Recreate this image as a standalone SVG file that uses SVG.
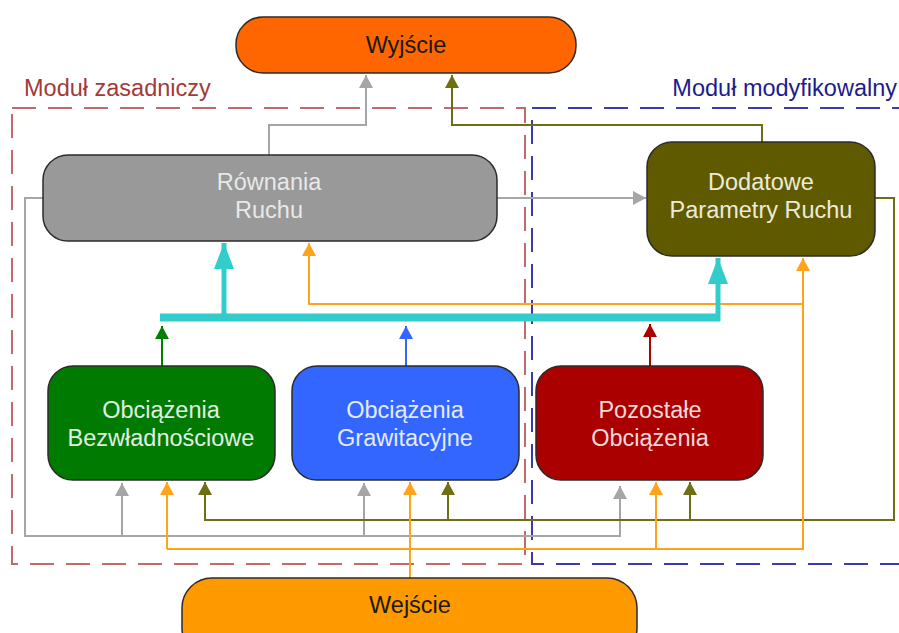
<svg xmlns="http://www.w3.org/2000/svg" width="899" height="633" viewBox="0 0 899 633">
<style>
  text { font-family: "Liberation Sans", Arial, sans-serif; font-size: 23.5px; text-anchor: middle; }
  .box { stroke: #2b2b2b; stroke-width: 1.5; }
  .c { fill: none; stroke-width: 2; }
  .gray { stroke: #a6a6a6; }
  .olive { stroke: #6e6e14; }
  .orange { stroke: #ffa31a; }
  .cyan { stroke: #33cccc; fill: none; }
  .green { stroke: #008000; }
  .blue { stroke: #3366ff; }
  .red { stroke: #aa0000; }
  .frame { fill: none; stroke-width: 2; stroke-dasharray: 24 12; }
</style>
<defs>
  <marker id="aGray" markerUnits="userSpaceOnUse" markerWidth="14" markerHeight="14" refX="13" refY="7" orient="auto"><path d="M0,0 L13,7 L0,14 z" fill="#a6a6a6"/></marker>
  <marker id="aOlive" markerUnits="userSpaceOnUse" markerWidth="14" markerHeight="14" refX="13" refY="7" orient="auto"><path d="M0,0 L13,7 L0,14 z" fill="#6e6e14"/></marker>
  <marker id="aOrange" markerUnits="userSpaceOnUse" markerWidth="14" markerHeight="14" refX="13" refY="7" orient="auto"><path d="M0,0 L13,7 L0,14 z" fill="#ffa31a"/></marker>
  <marker id="aGreen" markerUnits="userSpaceOnUse" markerWidth="14" markerHeight="14" refX="13" refY="7" orient="auto"><path d="M0,0 L13,7 L0,14 z" fill="#008000"/></marker>
  <marker id="aBlue" markerUnits="userSpaceOnUse" markerWidth="14" markerHeight="14" refX="13" refY="7" orient="auto"><path d="M0,0 L13,7 L0,14 z" fill="#3366ff"/></marker>
  <marker id="aRed" markerUnits="userSpaceOnUse" markerWidth="14" markerHeight="14" refX="13" refY="7" orient="auto"><path d="M0,0 L13,7 L0,14 z" fill="#aa0000"/></marker>
  <marker id="aCyan" markerUnits="userSpaceOnUse" markerWidth="26" markerHeight="20" refX="26" refY="10" orient="auto"><path d="M0,0 L26,10 L0,20 z" fill="#33cccc"/></marker>
</defs>

<g id="frames">
  <rect class="frame" x="12" y="108" width="513" height="456" stroke="#c06a6a"/>
  <rect class="frame" x="532" y="108" width="390" height="456" stroke="#3a3aaa"/>
  <text x="24" y="96" style="text-anchor:start" fill="#a23a3a">Moduł zasadniczy</text>
  <text x="897" y="96" style="text-anchor:end" fill="#1c1c8e">Moduł modyfikowalny</text>
</g>

<g id="connectors">
  <!-- gray -->
  <path class="c gray" d="M269,155 V125 H366 V75" marker-end="url(#aGray)"/>
  <path class="c gray" d="M497,198 H646" marker-end="url(#aGray)"/>
  <path class="c gray" d="M43,198 H25 V536 H620 V486" marker-end="url(#aGray)"/>
  <path class="c gray" d="M122,536 V483" marker-end="url(#aGray)"/>
  <path class="c gray" d="M364,536 V483" marker-end="url(#aGray)"/>
  <!-- olive -->
  <path class="c olive" d="M762,142 V125 H452 V75" marker-end="url(#aOlive)"/>
  <path class="c olive" d="M875,198 H894 V520 H205 V482" marker-end="url(#aOlive)"/>
  <path class="c olive" d="M448,520 V482" marker-end="url(#aOlive)"/>
  <path class="c olive" d="M690,520 V482" marker-end="url(#aOlive)"/>
  <!-- orange -->
  <path class="c orange" d="M410,578 V482" marker-end="url(#aOrange)"/>
  <path class="c orange" d="M167,549 H803 V258" marker-end="url(#aOrange)"/>
  <path class="c orange" d="M167,549 V482" marker-end="url(#aOrange)"/>
  <path class="c orange" d="M656,549 V482" marker-end="url(#aOrange)"/>
  <path class="c orange" d="M803,304 H309 V243" marker-end="url(#aOrange)"/>
  <!-- cyan bus -->
  <path class="cyan" stroke-width="8" d="M160,317.5 H720"/>
  <path class="cyan" stroke-width="5" d="M224,317 V243" marker-end="url(#aCyan)"/>
  <path class="cyan" stroke-width="5" d="M718,321 V258" marker-end="url(#aCyan)"/>
  <!-- loads to bus -->
  <path class="c green" d="M162,366 V326" marker-end="url(#aGreen)"/>
  <path class="c blue" d="M406,366 V326" marker-end="url(#aBlue)"/>
  <path class="c red" d="M650,366 V324" marker-end="url(#aRed)"/>
</g>

<g id="wyjscie">
  <rect class="box" x="236" y="17" width="340" height="56" rx="27" fill="#ff6600"/>
  <text x="406" y="53" fill="#1a1a1a">Wyjście</text>
</g>
<g id="rownania">
  <rect class="box" x="43" y="155" width="454" height="86" rx="25" fill="#999999"/>
  <text x="269" y="190" fill="#e8e8e8">Równania</text>
  <text x="269" y="218" fill="#e8e8e8">Ruchu</text>
</g>
<g id="dodatowe">
  <rect class="box" x="647" y="142" width="228" height="114" rx="25" fill="#5f5a00"/>
  <text x="761" y="190" fill="#ecebd8">Dodatowe</text>
  <text x="761" y="218" fill="#ecebd8">Parametry Ruchu</text>
</g>
<g id="bezwladnosciowe">
  <rect class="box" x="48" y="366" width="227" height="114" rx="25" fill="#007a00"/>
  <text x="161" y="418" fill="#e0f0e0">Obciążenia</text>
  <text x="161" y="446" fill="#e0f0e0">Bezwładnościowe</text>
</g>
<g id="grawitacyjne">
  <rect class="box" x="292" y="366" width="227" height="114" rx="25" fill="#3366ff"/>
  <text x="405" y="418" fill="#e4ebff">Obciążenia</text>
  <text x="405" y="446" fill="#e4ebff">Grawitacyjne</text>
</g>
<g id="pozostale">
  <rect class="box" x="536" y="366" width="227" height="114" rx="25" fill="#aa0000"/>
  <text x="650" y="418" fill="#f2dada">Pozostałe</text>
  <text x="650" y="446" fill="#f2dada">Obciążenia</text>
</g>
<g id="wejscie">
  <rect class="box" x="182" y="578" width="455" height="80" rx="30" fill="#ff9900"/>
  <text x="410" y="613" fill="#1a1a1a">Wejście</text>
</g>
</svg>
